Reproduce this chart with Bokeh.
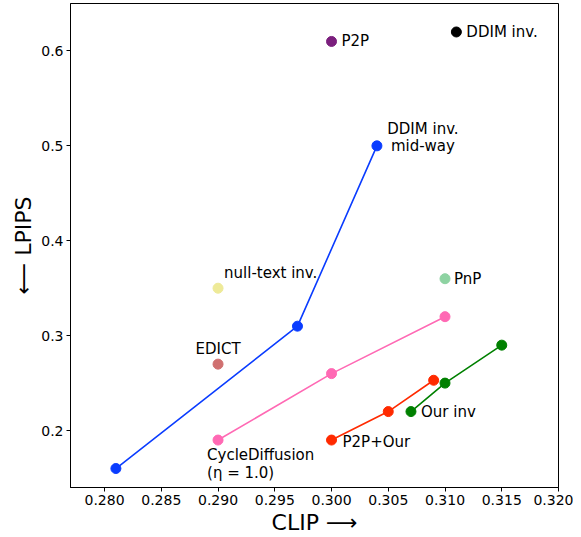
from bokeh.plotting import figure
from bokeh.models import FixedTicker, Range1d
from bokeh.core.properties import value
from bokeh.embed import file_html
from bokeh.resources import INLINE

# ---- data ----
blue_clip = [0.281, 0.297, 0.304]
blue_lpips = [0.16, 0.31, 0.50]
pink_clip = [0.290, 0.300, 0.310]
pink_lpips = [0.19, 0.26, 0.32]
red_clip = [0.300, 0.305, 0.309]
red_lpips = [0.19, 0.22, 0.253]
green_clip = [0.307, 0.310, 0.315]
green_lpips = [0.22, 0.25, 0.29]

single_names = ["DDIM inv.", "P2P", "null-text inv.", "EDICT", "PnP"]
single_clip = [0.311, 0.300, 0.290, 0.290, 0.310]
single_lpips = [0.62, 0.61, 0.35, 0.27, 0.36]
single_colors = ["#000000", "#7b1f7d", "#eeea98", "#d07070", "#8ed3a2"]

x_ticks = [0.280, 0.285, 0.290, 0.295, 0.300, 0.305, 0.310, 0.315, 0.320]
y_ticks = [0.2, 0.3, 0.4, 0.5, 0.6]

FONT = "DejaVu Sans"

p = figure(width=573, height=537, output_backend="svg", toolbar_location=None,
           x_range=Range1d(0.277, 0.320), y_range=Range1d(0.14, 0.65),
           min_border_left=70, min_border_right=15, min_border_top=3,
           min_border_bottom=44)
p.xgrid.visible = False
p.ygrid.visible = False
p.outline_line_color = "black"
p.outline_line_width = 1
p.outline_line_alpha = 1

for ax in (p.xaxis[0], p.yaxis[0]):
    ax.major_label_text_font = FONT
    ax.major_label_text_font_size = "14px"
    ax.major_label_text_color = "black"
    ax.axis_label_text_font = FONT
    ax.axis_label_text_font_size = "22px"
    ax.axis_label_text_font_style = "normal"
    ax.axis_label_text_color = "black"
    ax.minor_tick_line_color = None
    ax.major_tick_out = 4
    ax.major_tick_in = 0
    ax.major_tick_line_color = "black"
    ax.axis_line_color = "black"
    ax.major_label_standoff = 3
    ax.axis_label_standoff = 2

p.xaxis.ticker = FixedTicker(ticks=x_ticks)
p.yaxis.ticker = FixedTicker(ticks=y_ticks)
p.xaxis.major_label_overrides = {t: f"{t:.3f}" for t in x_ticks}
p.yaxis.major_label_overrides = {t: f"{t:.1f}" for t in y_ticks}
p.xaxis.axis_label = "CLIP \u27f6"
p.yaxis.axis_label = "\u27f5 LPIPS"

series = [
    (blue_clip, blue_lpips, "#0a3cff"),
    (pink_clip, pink_lpips, "#ff69b4"),
    (red_clip, red_lpips, "#ff2a00"),
    (green_clip, green_lpips, "#008000"),
]
for xs, ys, c in series:
    p.line(xs, ys, line_color=c, line_width=1.6)
    p.scatter(xs, ys, size=10, fill_color=c, line_color=c)

p.scatter(single_clip, single_lpips, size=10, fill_color=single_colors,
          line_color=single_colors)

def label(x, y, txt, xo, yo, align="left", baseline="middle"):
    p.text([x], [y], text=[txt], x_offset=xo, y_offset=yo,
           text_align=align, text_baseline=baseline,
           text_font=value(FONT), text_font_size="15px", text_color="black",
           text_line_height=0.95)

label(single_clip[0], single_lpips[0], single_names[0], 10, 0)
label(single_clip[1], single_lpips[1], single_names[1], 10, 0)
label(single_clip[2], single_lpips[2], single_names[2], 6, -15)
label(single_clip[3], single_lpips[3], single_names[3], 0, -15, align="center")
label(single_clip[4], single_lpips[4], single_names[4], 9, 0)
label(blue_clip[2], blue_lpips[2], "DDIM inv.\nmid-way", 46, -8, align="center")
label(pink_clip[0], pink_lpips[0], "CycleDiffusion\n(\u03b7 = 1.0)", -11, 24)
label(green_clip[0], green_lpips[0], "Our inv", 10, 0)
label(red_clip[0], red_lpips[0], "P2P+Our", 11, 2)

open("out.html", "w").write(file_html(p, INLINE))
